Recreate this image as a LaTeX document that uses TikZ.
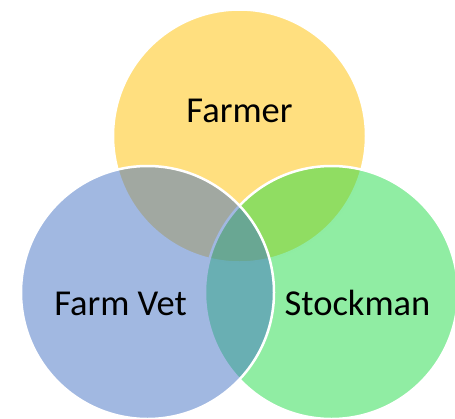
\documentclass[tikz,border=0pt]{standalone}
\usepackage{fontspec}
\setmainfont{Carlito}
\definecolor{cyellow}{RGB}{255,192,0}
\definecolor{cgreen}{RGB}{33,219,71}
\definecolor{cblue}{RGB}{68,114,196}
\tikzset{
  venn/.style={circle, draw=white, line width=2.5pt, fill opacity=0.5, draw opacity=1, minimum size=253pt, inner sep=0pt},
  lbl/.style={font=\fontsize{36.5}{40}\selectfont, anchor=base, text=black, inner sep=0pt}
}
\begin{document}
\begin{tikzpicture}[x=1pt,y=-1pt]
\useasboundingbox (0,0) rectangle (455,418);
\node[venn, fill=cyellow] (farmer) at (239.5,136) {};
\node[venn, fill=cgreen] (stock) at (331.5,292.5) {};
\node[venn, fill=cblue] (vet) at (147.5,292.5) {};
\node[lbl] (t1) at (239.5,122.5) {Farmer};
\node[lbl] (t2) at (120.5,315.5) {Farm Vet};
\node[lbl] (t3) at (357.5,315.5) {Stockman};
\end{tikzpicture}
\end{document}
